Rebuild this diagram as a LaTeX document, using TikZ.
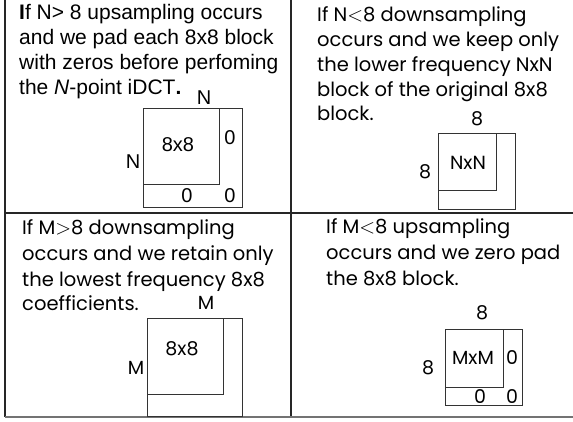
\documentclass[tikz,border=0pt]{standalone}
\usepackage{fontspec}
\setmainfont{Liberation Sans}
\newfontfamily\geo{Poppins}
\newcommand{\lessop}{$<$}
\newcommand{\moreop}{$>$}
\begin{document}
\begin{tikzpicture}[x=1pt,y=-1pt,
  grid/.style={line width=1.3pt,draw=black!85},
  base/.style={line width=2pt,draw=black!55},
  blk/.style={line width=0.8pt,draw=black!80},
  arialtxt/.style={anchor=base west,inner sep=0,font=\fontsize{21}{24}\selectfont},
  geotxt/.style={anchor=base west,inner sep=0,font=\geo\fontsize{19.5}{22}\selectfont},
  alab/.style={inner sep=0,font=\fontsize{20}{22}\selectfont},
  glab/.style={inner sep=0,font=\geo\fontsize{19}{22}\selectfont}]
\useasboundingbox (0,0) rectangle (573,421);
% grid
\draw[grid] (5,0) -- (5,417);
\draw[grid] (291,0) -- (291,417);
\draw[grid] (5,213) -- (573,213);
\draw[base] (5,417) -- (573,417);
% panel 1 text
\node[arialtxt] (t1a) at (19,19) {\textbf{I}f N> 8 upsampling occurs};
\node[arialtxt] (t1b) at (19,44) {and we pad each 8x8 block};
\node[arialtxt] (t1c) at (19,69) {with zeros before perfoming};
\node[arialtxt] (t1d) at (19,94) {the \textit{N}-point iDCT\textbf{.}};
% panel 1 figure
\draw[blk] (143,108) rectangle (242,207);
\draw[blk] (143,108) rectangle (219,184);
\node[alab] (n1t) at (204,98) {N};
\node[alab] (n1l) at (133,162) {N};
\node[alab] (n1c) at (178,145) {8x8};
\node[alab] (n1r) at (230,138) {0};
\node[alab] (n1b) at (187,196) {0};
\node[alab] (n1d) at (230,196) {0};
% panel 2 text
\node[geotxt] (t2a) at (317,21) {If N\lessop8 downsampling};
\node[geotxt] (t2b) at (317,46) {occurs and we keep only};
\node[geotxt] (t2c) at (317,71) {the lower frequency NxN};
\node[geotxt] (t2d) at (317,96) {block of the original 8x8};
\node[geotxt] (t2e) at (317,120) {block.};
% panel 2 figure
\draw[blk] (438,133) rectangle (515,209);
\draw[blk] (438,133) rectangle (496,190);
\node[glab] (n2t) at (477,119) {8};
\node[glab] (n2l) at (425,172) {8};
\node[glab] (n2c) at (468,163) {NxN};
% panel 3 text
\node[geotxt] (t3a) at (22,234) {If M\moreop8 downsampling};
\node[geotxt] (t3b) at (22,260) {occurs and we retain only};
\node[geotxt] (t3c) at (22,286) {the lowest frequency 8x8};
\node[geotxt] (t3d) at (22,310) {coefficients.};
% panel 3 figure
\draw[blk] (147,318) rectangle (242,416);
\draw[blk] (147,318) rectangle (223,394);
\node[glab] (n3t) at (206,303) {M};
\node[glab] (n3l) at (136,368) {M};
\node[glab] (n3c) at (182,349) {8x8};
% panel 4 text
\node[geotxt] (t4a) at (326,233) {If M\lessop8 upsampling};
\node[geotxt] (t4b) at (326,259) {occurs and we zero pad};
\node[geotxt] (t4c) at (326,285) {the 8x8 block.};
% panel 4 figure
\draw[blk] (445,329) rectangle (522,405);
\draw[blk] (445,329) rectangle (503,387);
\node[glab] (n4t) at (482,313) {8};
\node[glab] (n4l) at (428,368) {8};
\node[glab] (n4c) at (473,358) {MxM};
\node[glab] (n4r) at (512,358) {0};
\node[glab] (n4b) at (480,397) {0};
\node[glab] (n4d) at (512,397) {0};
\end{tikzpicture}
\end{document}
